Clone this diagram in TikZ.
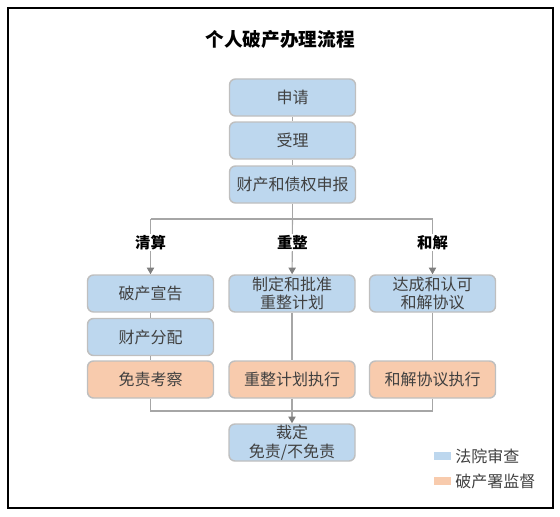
\documentclass[tikz,border=0pt]{standalone}
\usepackage{fontspec}
\setmainfont{Noto Sans CJK SC}
\usetikzlibrary{arrows.meta}
\definecolor{courtblue}{HTML}{BDD7EE}
\definecolor{officeorange}{HTML}{F8CBAD}
\definecolor{boxline}{HTML}{BFBFBF}
\definecolor{flowline}{HTML}{A6A6A6}
\definecolor{tipgray}{HTML}{7F7F7F}
\definecolor{boxtext}{HTML}{404040}
\tikzset{
  stepbox/.style={draw=boxline, line width=1.1pt, rounded corners=4.5pt,
    minimum width=94.5pt, minimum height=27.75pt, inner sep=0pt,
    align=center, text=boxtext, font=\fontsize{12}{14}\selectfont},
  court/.style={stepbox, fill=courtblue},
  office/.style={stepbox, fill=officeorange},
  flow/.style={draw=flowline, line width=0.8pt},
  flowarrow/.style={flow, -{Triangle[width=5.5pt,length=5pt,fill=tipgray,color=tipgray]}},
  branch/.style={fill=white, inner sep=1pt, font=\bfseries\fontsize{11.5}{13}\selectfont},
  keybox/.style={minimum width=12.75pt, minimum height=6pt, inner sep=0pt},
  keytext/.style={anchor=west, inner sep=0pt, text=boxtext, font=\fontsize{12}{14}\selectfont},
}
\begin{document}
\begin{tikzpicture}[x=0.75pt,y=-0.75pt]
\useasboundingbox (0,0) rectangle (560,517);
\draw[line width=1.1pt] (8,8) rectangle (553,508);
\node[font=\bfseries\fontsize{14}{16}\selectfont] (title) at (280,39) {个人破产办理流程};
% common steps
\node[court] (apply) at (292.5,97.5) {申请};
\node[court] (accept) at (292.5,140.5) {受理};
\node[court] (claim) at (292.5,184.5) {财产和债权申报};
% three procedures
\node[court] (declare) at (150.5,293.5) {破产宣告};
\node[court] (share) at (150.5,337) {财产分配};
\node[office] (exam) at (150.5,379.5) {免责考察};
\node[court] (plan) at (292,293.5) {制定和批准\\重整计划};
\node[office] (planrun) at (292,379.5) {重整计划执行};
\node[court] (deal) at (432.5,293.5) {达成和认可\\和解协议};
\node[office] (dealrun) at (432.5,379.5) {和解协议执行};
\node[court] (ruling) at (292,442.5) {裁定\\免责/不免责};
% connectors
\coordinate (split) at (292.5,219);
\coordinate (splitl) at (150.5,219);
\coordinate (splitr) at (432.5,219);
\coordinate (joinl) at (150.5,411);
\coordinate (join) at (292,411);
\coordinate (joinr) at (432.5,411);
\draw[flow] (apply) -- (accept);
\draw[flow] (accept) -- (claim);
\draw[flow] (claim) -- (split);
\draw[flow] (splitl) -- (splitr);
\draw[flowarrow] (splitl) -- node[branch,pos=0.43] (liq) {清算} (declare);
\draw[flowarrow] (split) -- node[branch,pos=0.43] (reorg) {重整} (plan);
\draw[flowarrow] (splitr) -- node[branch,pos=0.43] (settle) {和解} (deal);
\draw[flow] (declare) -- (share);
\draw[flow] (share) -- (exam);
\draw[flow] (plan) -- (planrun);
\draw[flow] (deal) -- (dealrun);
\draw[flow] (exam) -- (joinl) -- (joinr);
\draw[flow] (planrun) -- (join);
\draw[flow] (dealrun) -- (joinr);
\draw[flowarrow] (join) -- (ruling);
% legend
\node[keybox, fill=courtblue] (keycourt) at (442.5,456) {};
\node[keytext] (keycourttext) at (455,456) {法院审查};
\node[keybox, fill=officeorange] (keyoffice) at (442.5,481) {};
\node[keytext] (keyofficetext) at (455,481) {破产署监督};
\end{tikzpicture}
\end{document}
